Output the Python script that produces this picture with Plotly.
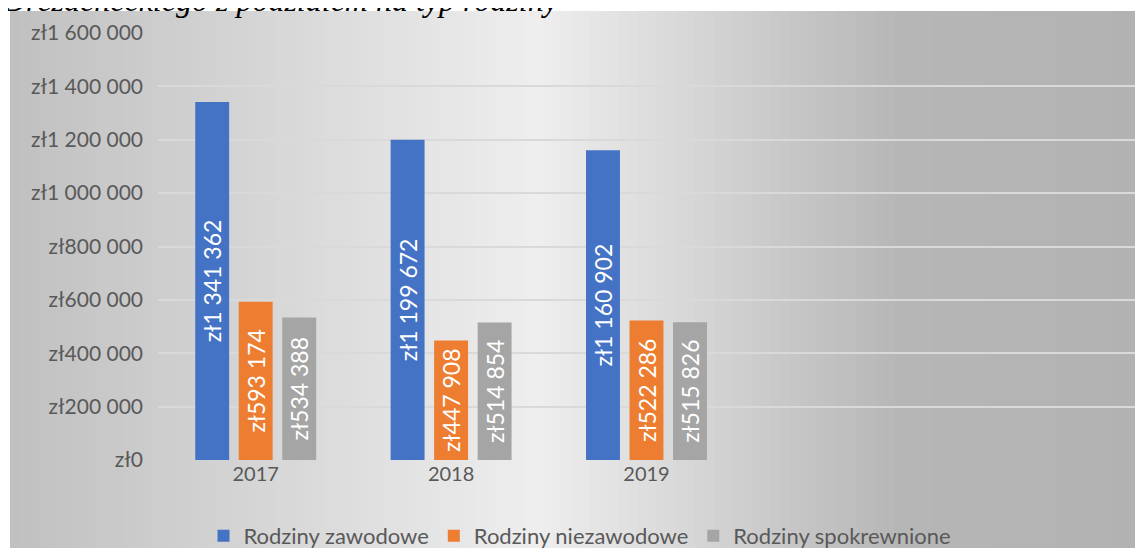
import plotly.graph_objects as go

years = [2017, 2018, 2019]
zawodowe = [1341362, 1199672, 1160902]
niezawodowe = [593174, 447908, 522286]
spokrewnione = [534388, 514854, 515826]
series_names = ["Rodziny zawodowe", "Rodziny niezawodowe", "Rodziny spokrewnione"]
series_colors = ["#4472C4", "#ED7D31", "#A5A5A5"]
title_text = "Drezdeneckiego z podziałem na typ rodziny"

W, H = 1143, 548
OFF = 8  # default page body margin
# plot area in page pixels: x 158..1135, y 33..460
L = 158 - OFF
R = W - (1135 - OFF)
T = 33 - OFF
B = H - (460 - OFF)
pw, ph = W - L - R, H - T - B

def px2x(page_px):
    return (page_px - OFF - L) / pw

def py2y(page_py):
    return (H - B - (page_py - OFF)) / ph

fig = go.Figure()
for name, vals, col in zip(series_names, [zawodowe, niezawodowe, spokrewnione], series_colors):
    fig.add_trace(go.Bar(
        x=years, y=vals, name=name, marker_color=col, marker_line_width=0,
        texttemplate="zł%{y:,.0f}", textposition="inside", textangle=-90,
        insidetextanchor="middle", insidetextfont=dict(color="white", size=23, family="Lato"),
        constraintext="none",
    ))

def bg_color(px):
    stops = [(10, 192), (540, 238), (900, 182), (1143, 178)]
    for (x0, c0), (x1, c1) in zip(stops, stops[1:]):
        if px <= x1:
            t = (px - x0) / (x1 - x0)
            return int(round(c0 + (c1 - c0) * t))
    return stops[-1][1]

shapes = []
n = 120
x_start, x_end = 10, W + OFF
step = (x_end - x_start) / n
for i in range(n):
    a = x_start + i * step
    b = a + step + 1.0
    c = bg_color(a + step / 2)
    shapes.append(dict(type="rect", xref="paper", yref="paper",
                       x0=px2x(a), x1=px2x(b), y0=py2y(H + OFF), y1=py2y(11),
                       fillcolor=f"rgb({c},{c},{c})", line_width=0, layer="below"))

fig.update_layout(
    width=W, height=H,
    margin=dict(l=L, r=R, t=T, b=B, autoexpand=False),
    paper_bgcolor="white", plot_bgcolor="rgba(0,0,0,0)",
    separators=". ",
    barmode="group", bargap=0.332, bargroupgap=0.22,
    font=dict(family="Lato", color="#595959", size=20),
    shapes=shapes,
    showlegend=True,
    legend=dict(orientation="h", x=(580 - OFF) / W, xref="container", xanchor="center",
                y=(H - (536 - OFF)) / H, yref="container", yanchor="middle",
                font=dict(size=22, color="#595959"),
                bgcolor="rgba(0,0,0,0)", traceorder="normal"),
    annotations=[dict(text="<i>" + title_text + "</i>", xref="paper", yref="paper",
                      x=px2x(0), xanchor="left", y=py2y(20), yanchor="bottom",
                      showarrow=False,
                      font=dict(family="Liberation Serif", size=32, color="black"))],
)

fig.update_xaxes(range=[2016.5, 2021.5], tickvals=years, ticktext=[str(y) for y in years],
                 showgrid=False, zeroline=False, showline=False, ticks="",
                 tickfont=dict(size=20, color="#595959"))
fig.update_yaxes(range=[0, 1600000], dtick=200000, tickprefix="zł", tickformat=",.0f",
                 showgrid=True, gridcolor="#D9D9D9", gridwidth=1.5, zeroline=False,
                 showline=False, ticks="", ticklabelstandoff=14,
                 tickfont=dict(size=21, color="#595959"))

fig.write_html("out.html")
